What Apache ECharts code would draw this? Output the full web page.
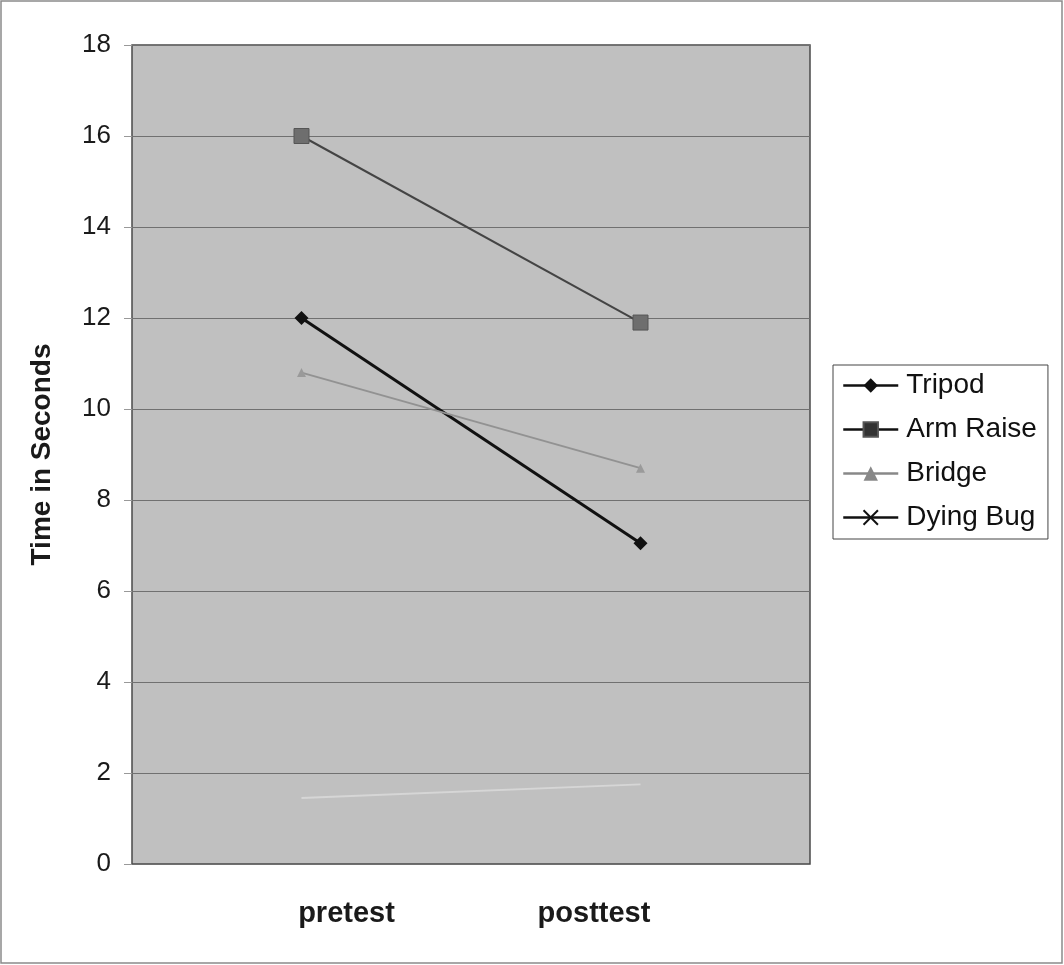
<!DOCTYPE html>
<html><head><meta charset="utf-8">
<script src="https://cdn.jsdelivr.net/npm/echarts@6/dist/echarts.min.js"></script>
<style>html,body{margin:0;padding:0;background:#fff}#c{width:1064px;height:965px}</style>
</head><body><div id="c"></div>
<script>
const categories = ['pretest', 'posttest'];
const seriesNames = ['Tripod', 'Arm Raise', 'Bridge', 'Dying Bug'];
const tripod = [12, 7.05];
const armRaise = [16, 11.9];
const bridge = [10.8, 8.7];
const dyingBug = [1.45, 1.75];
const yTicks = [0, 2, 4, 6, 8, 10, 12, 14, 16, 18];

const chart = echarts.init(document.getElementById('c'), null, {renderer: 'canvas'});
const font = 'Liberation Sans, Arial, sans-serif';
const xPath = 'path://M0,0L10,10M10,0L0,10';
chart.setOption({
  backgroundColor: '#ffffff',
  animation: false,
  graphic: [{type: 'rect', shape: {x: 1, y: 1, width: 1061, height: 962}, style: {fill: 'none', stroke: '#8a8a8a', lineWidth: 1.5}, silent: true}],
  grid: {left: 132, right: 254, top: 45, bottom: 101, show: true, backgroundColor: '#c0c0c0', borderColor: '#4a4a4a', borderWidth: 1.5},
  legend: {
    orient: 'vertical', left: 833, top: 365,
    data: [
      {name: 'Tripod', lineStyle: {color: '#111', width: 2.5}, itemStyle: {color: '#111'}},
      {name: 'Arm Raise', lineStyle: {color: '#111', width: 2.5}, itemStyle: {color: '#333'}},
      {name: 'Bridge', lineStyle: {color: '#888', width: 2.5}, itemStyle: {color: '#888'}},
      {name: 'Dying Bug', lineStyle: {color: '#111', width: 2.5}, itemStyle: {color: 'transparent', borderColor: '#111', borderWidth: 2}}
    ],
    itemWidth: 55, itemHeight: 18, itemGap: 13,
    padding: [5, 11, 6, 9],
    borderColor: '#444', borderWidth: 1, backgroundColor: '#fff',
    textStyle: {fontFamily: font, fontSize: 28, lineHeight: 31, color: '#111', padding: [0, 0, 0, 3]}
  },
  xAxis: {
    type: 'category', data: categories, boundaryGap: true,
    axisLine: {show: false}, axisTick: {show: false},
    axisLabel: {
      margin: 35,
      formatter: v => v === 'pretest' ? '{a|' + v + '}' : '{b|' + v + '}',
      rich: {
        a: {fontFamily: font, fontSize: 29, fontWeight: 'bold', color: '#1a1a1a', padding: [0, 0, 0, 90]},
        b: {fontFamily: font, fontSize: 29, fontWeight: 'bold', color: '#1a1a1a', padding: [0, 93, 0, 0]}
      }
    }
  },
  yAxis: {
    type: 'value', min: 0, max: 18, interval: 2,
    name: 'Time in Seconds', nameLocation: 'middle', nameGap: 76,
    nameTextStyle: {fontFamily: font, fontSize: 28, fontWeight: 'bold', color: '#1a1a1a'},
    axisLine: {show: false},
    axisTick: {show: true, length: 8, lineStyle: {color: '#999'}},
    axisLabel: {fontFamily: font, fontSize: 26, color: '#1a1a1a', margin: 21,
      formatter: v => yTicks.includes(v) ? String(v) : ''},
    splitLine: {show: true, lineStyle: {color: '#707070', width: 1}}
  },
  series: [
    {name: 'Tripod', type: 'line', data: tripod, symbol: 'diamond', symbolSize: 14,
      lineStyle: {color: '#111', width: 3}, itemStyle: {color: '#111'}},
    {name: 'Arm Raise', type: 'line', data: armRaise, symbol: 'rect', symbolSize: 15,
      lineStyle: {color: '#444', width: 2}, itemStyle: {color: '#6e6e6e', borderColor: '#555', borderWidth: 1}},
    {name: 'Bridge', type: 'line', data: bridge, symbol: 'triangle', symbolSize: 9,
      lineStyle: {color: '#929292', width: 2}, itemStyle: {color: '#9a9a9a'}},
    {name: 'Dying Bug', type: 'line', data: dyingBug, symbol: xPath, showSymbol: false,
      lineStyle: {color: '#d6d6d6', width: 2}, itemStyle: {color: 'transparent', borderColor: '#111', borderWidth: 2}}
  ]
});
</script></body></html>
